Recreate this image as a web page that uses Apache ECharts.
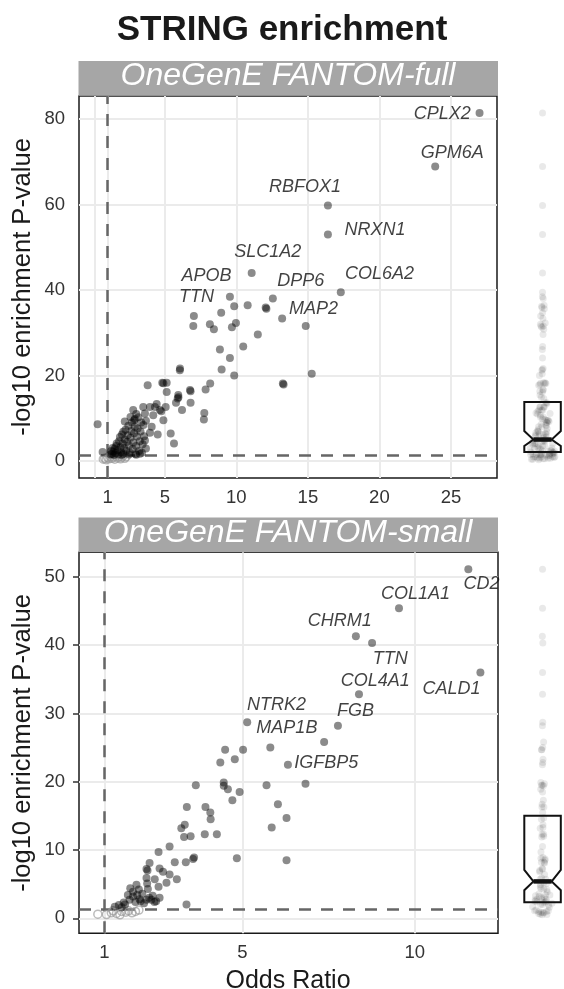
<!DOCTYPE html>
<html>
<head>
<meta charset="utf-8">
<title>STRING enrichment</title>
<script src="https://cdn.jsdelivr.net/npm/echarts@6/dist/echarts.min.js"></script>
<style>html,body{margin:0;padding:0;background:#fff;}</style>
</head>
<body>
<div id="main" style="width:564px;height:989px;"></div>
<script type="text/javascript">

/* data: odds ratio / -log10 p ============================================ */
// OneGenE FANTOM-full, significant (filled)
var fullOR = [27.0, 23.9, 16.4, 16.4, 17.3, 11.07, 12.55, 12.05, 12.1, 13.2, 14.85, 11.5, 9.55, 7.03, 6.99,
    9.85, 10.79, 8.94, 8.15, 8.43, 9.69, 9.97, 10.48, 8.85, 9.55, 8.97, 9.85, 6.06, 6.05, 8.17,
    7.85, 13.3, 13.25, 15.27, 3.80, 4.82, 4.9, 5.13, 5.13, 5.94, 5.9, 5.95, 5.78, 6.76, 6.8,
    6.80, 6.2, 7.76, 7.73, 5.06, 4.43, 4.66, 4.75, 4.9, 4.19, 3.61, 3.49, 2.79, 3.68, 4.08,
    3.96, 4.50, 5.41, 5.64, 3.61, 3.68, 3.26, 0.30, 0.65, 4.31, 3.96, 2.86, 2.9,
    1.3, 1.4, 1.5, 1.55, 1.6, 1.63, 1.7, 1.75, 1.8, 1.86, 1.9, 1.95, 2.0, 2.05, 2.09, 2.1,
    2.15, 2.2, 2.25, 2.3, 2.35, 2.4, 2.45, 2.5, 2.55, 2.6, 2.65, 2.7, 2.75, 2.8, 2.85, 2.9,
    2.95, 3.0, 3.05, 3.1, 3.15, 3.2, 3.25, 3.3, 3.35, 3.4, 3.45, 3.5, 3.55, 2.2, 2.6, 3.0,
    1.45, 2.0, 2.5, 3.0, 1.2, 1.35, 1.25];
var fullP = [81.4, 68.9, 59.8, 53.0, 39.5, 44.0, 38.0, 35.9, 35.6, 33.3, 31.6, 29.6, 38.4, 33.9, 31.6,
    36.2, 36.4, 34.7, 32.0, 30.8, 31.3, 32.3, 26.8, 26.1, 24.1, 21.4, 20.0, 21.6, 21.2, 18.1,
    16.7, 17.9, 18.1, 20.4, 17.7, 18.3, 18.2, 18.3, 16.1, 15.4, 14.6, 14.9, 13.6, 16.6, 16.3,
    13.6, 11.9, 11.2, 9.7, 12.6, 13.3, 11.9, 11.6, 9.5, 10.7, 11.1, 12.6, 11.9, 9.4, 8.0,
    6.6, 6.2, 6.4, 4.1, 4.8, 2.9, 1.7, 8.6, 2.1, 12.6, 12.6, 9.5, 9.8,
    1.6, 2.2, 2.9, 1.8, 3.5, 4.1, 2.5, 1.5, 4.6, 5.6, 3.2, 2.0, 6.2, 4.0, 6.8, 1.6,
    3.0, 5.0, 7.3, 2.4, 4.5, 6.0, 8.2, 3.6, 1.9, 5.4, 7.0, 9.0, 2.8, 4.3, 6.5, 8.0,
    1.6, 3.5, 5.7, 7.6, 10.2, 2.3, 4.6, 6.9, 9.0, 1.9, 3.9, 8.4, 5.8, 9.2, 10.3, 11.0,
    1.4, 1.4, 1.5, 1.45, 1.5, 3.0, 2.3];
// OneGenE FANTOM-full, not significant (hollow)
var fullNsOR = [0.7, 0.8, 0.9, 1.0, 1.1, 1.2, 1.3, 1.4, 1.5, 1.6, 1.7, 1.8, 1.9, 2.0, 2.1, 2.2, 2.3];
var fullNsP = [0.4, 0.6, 0.3, 0.8, 0.5, 1.0, 0.6, 0.9, 0.4, 1.1, 0.7, 1.0, 0.5, 0.9, 1.2, 0.6, 1.0];
// labelled genes (label anchor positions)
var fullGenes = ['CPLX2', 'GPM6A', 'RBFOX1', 'NRXN1', 'COL6A2', 'DPP6', 'MAP2', 'SLC1A2', 'APOB', 'TTN'];
var fullGeneX = [24.4, 25.1, 14.8, 19.7, 20.0, 14.5, 15.4, 12.2, 7.92, 7.22];
var fullGeneY = [81.3, 72.1, 64.0, 54.1, 43.7, 42.1, 35.6, 48.9, 43.2, 38.4];
// notched box: q1, lower notch, median, upper notch, q3
var fullBox = [2.1, 3.5, 5.0, 7.0, 13.8];

// OneGenE FANTOM-small, significant (filled)
var smallOR = [11.55, 9.54, 8.29, 8.76, 11.9, 8.38, 5.14, 7.77, 7.37, 5.81, 5.02, 4.78, 6.32, 4.50, 4.36,
    5.70, 6.83, 4.92, 4.58, 4.71, 6.03, 6.28, 5.85, 4.84, 6.28, 3.65, 4.46, 4.46, 3.39, 3.93,
    4.07, 4.08, 3.91, 4.26, 3.23, 3.33, 3.31, 3.50, 2.89, 2.57, 3.04, 3.36, 3.57, 3.6, 3.10,
    2.89, 2.60, 2.70, 2.80, 2.57, 2.46, 2.22, 2.25, 2.31, 2.22, 2.24, 2.26, 1.93, 1.83, 2.22,
    2.36, 2.02, 1.83, 1.68, 1.56, 1.73, 1.42, 3.38, 1.30,
    1.9, 2.1, 2.0, 1.6, 2.4, 2.5, 1.75, 2.15, 2.3, 2.45, 1.5, 2.6, 2.05, 1.95];
var smallP = [51.1, 45.4, 41.3, 40.3, 36.0, 32.8, 28.7, 28.2, 25.8, 25.0, 24.7, 23.3, 22.5, 24.7, 22.8,
    19.5, 19.7, 18.5, 18.9, 17.3, 16.7, 14.7, 13.3, 8.8, 8.5, 19.5, 19.9, 19.4, 16.3, 16.3,
    15.5, 14.5, 12.3, 12.3, 13.2, 13.7, 11.9, 12.0, 10.5, 9.7, 8.2, 8.2, 8.7, 8.9, 5.7,
    6.4, 7.3, 6.8, 5.2, 4.6, 5.7, 7.2, 7.0, 8.1, 5.9, 5.1, 4.3, 4.9, 3.9, 2.7,
    2.7, 2.8, 3.2, 3.4, 2.3, 2.7, 1.95, 2.0, 1.7,
    2.4, 3.6, 4.2, 2.0, 3.3, 2.5, 4.4, 2.2, 3.0, 2.4, 1.6, 3.0, 2.5, 3.4];
var smallNsOR = [0.81, 1.06, 1.2, 1.35, 1.5, 1.62, 1.7, 1.8, 1.9, 1.25, 1.45, 2.0];
var smallNsP = [0.6, 0.55, 0.8, 0.7, 1.0, 0.9, 1.1, 0.8, 1.0, 1.1, 0.5, 1.2];
var smallGenes = ['CD2', 'COL1A1', 'CHRM1', 'TTN', 'COL4A1', 'CALD1', 'NTRK2', 'FGB', 'MAP1B', 'IGFBP5'];
var smallGeneX = [11.93, 10.02, 7.82, 9.29, 8.85, 11.06, 5.99, 8.28, 6.29, 7.43];
var smallGeneY = [49.0, 47.5, 43.5, 37.9, 34.8, 33.6, 31.3, 30.4, 27.8, 22.8];
var smallBox = [2.34, 4.1, 5.4, 7.1, 15.0];

// axis ticks
var fullXTicks = [1, 5, 10, 15, 20, 25];
var fullYTicks = [0, 20, 40, 60, 80];
var smallXTicks = [1, 5, 10];
var smallYTicks = [0, 10, 20, 30, 40, 50];

var sigLine = 1.3;   // -log10(0.05)
var orLine = 1;

/* helpers ============================================================== */
var FONT = "'Liberation Sans', Arial, Helvetica, sans-serif";

function zip(xs, ys) {
    return xs.map(function (x, i) { return [x, ys[i]]; });
}
function labelData(names, xs, ys) {
    return names.map(function (n, i) { return {name: n, value: [xs[i], ys[i]]}; });
}
// quasi-random horizontal spread, wider where the values are dense
function stripData(ys, h) {
    return ys.map(function (y, i) {
        var n = ys.filter(function (v) { return Math.abs(v - y) < h; }).length;
        var w = Math.min(0.34, 0.011 * (n - 1));
        var j = ((i * 0.6180339887) % 1) - 0.5;
        return [0.5 + 2 * j * w, y];
    });
}

function xAxisFor(gi, min, max, ticks) {
    return {
        type: 'value', gridIndex: gi, min: min, max: max,
        axisLine: {show: false},
        axisTick: {show: true, length: 6, customValues: ticks, lineStyle: {color: '#333', width: 1.5}},
        axisLabel: {customValues: ticks, margin: 10, color: '#333', fontSize: 18.5, fontFamily: FONT},
        splitLine: {show: false}
    };
}
function yAxisFor(gi, min, max, ticks) {
    return {
        type: 'value', gridIndex: gi, min: min, max: max,
        axisLine: {show: false},
        axisTick: {show: true, length: 6, customValues: ticks, lineStyle: {color: '#333', width: 1.5}},
        axisLabel: {customValues: ticks, margin: 14, color: '#333', fontSize: 18.5, fontFamily: FONT},
        splitLine: {show: false}
    };
}
function hiddenAxis(gi, min, max) {
    return {type: 'value', gridIndex: gi, min: min, max: max, show: false,
        splitLine: {show: false}};
}

function panelSeries(ax, sigX, sigY, nsX, nsY, xTicks, yTicks, extraX, genes, gx, gy) {
    var grid = xTicks.concat(extraX).map(function (v) { return {xAxis: v}; })
        .concat(yTicks.map(function (v) { return {yAxis: v}; }));
    return [
        {   // background grid lines
            type: 'scatter', xAxisIndex: ax, yAxisIndex: ax, data: [], silent: true,
            markLine: {
                silent: true, symbol: 'none', z: 1, animation: false,
                label: {show: false},
                lineStyle: {color: '#ebebeb', width: 2, type: 'solid'},
                data: grid
            }
        },
        {   // dashed reference lines
            type: 'scatter', xAxisIndex: ax, yAxisIndex: ax, data: [], silent: true,
            markLine: {
                silent: true, symbol: 'none', z: 2, animation: false,
                label: {show: false},
                lineStyle: {color: '#666', width: 2.5, type: [12, 10]},
                data: [{xAxis: orLine}, {yAxis: sigLine}]
            }
        },
        {
            type: 'scatter', xAxisIndex: ax, yAxisIndex: ax, z: 3,
            symbolSize: 8,
            itemStyle: {color: 'rgba(255,255,255,0)', borderColor: 'rgba(150,150,150,0.8)', borderWidth: 1.5},
            data: zip(nsX, nsY)
        },
        {
            type: 'scatter', xAxisIndex: ax, yAxisIndex: ax, z: 4,
            symbolSize: 8,
            itemStyle: {color: 'rgba(0,0,0,0.57)'},
            data: zip(sigX, sigY)
        },
        {   // gene names
            type: 'scatter', xAxisIndex: ax, yAxisIndex: ax, z: 5,
            symbolSize: 1, itemStyle: {color: 'rgba(0,0,0,0)'},
            label: {
                show: true, position: 'inside', formatter: '{b}',
                color: '#111', fontSize: 18, fontStyle: 'italic', fontFamily: FONT
            },
            data: labelData(genes, gx, gy)
        }
    ];
}

function boxSeries(ax, box) {
    return {
        type: 'custom', xAxisIndex: ax, yAxisIndex: ax, z: 5, silent: true,
        data: [[0.5, box[2]]],
        renderItem: function (params, api) {
            var q1 = box[0], nLo = box[1], med = box[2], nHi = box[3], q3 = box[4];
            var pts = [[0, q3], [1, q3], [1, nHi], [0.75, med], [1, nLo], [1, q1],
                [0, q1], [0, nLo], [0.25, med], [0, nHi]].map(function (p) { return api.coord(p); });
            var a = api.coord([0.25, med]), b = api.coord([0.75, med]);
            return {
                type: 'group',
                children: [
                    {type: 'polygon', shape: {points: pts},
                        style: {fill: 'none', stroke: '#111', lineWidth: 2}},
                    {type: 'line', shape: {x1: a[0], y1: a[1], x2: b[0], y2: b[1]},
                        style: {stroke: '#111', lineWidth: 4.5}}
                ]
            };
        }
    };
}

function stripSeries(ax, ys, h) {
    return {
        type: 'scatter', xAxisIndex: ax, yAxisIndex: ax, z: 3, silent: true,
        symbolSize: 7,
        itemStyle: {color: 'rgba(0,0,0,0.11)'},
        data: stripData(ys, h)
    };
}

/* chart ================================================================= */
var myChart = echarts.init(document.getElementById('main'));

var fullRange = [-1.0, 28.22, -4.0, 85.4];
var smallRange = [0.264, 12.41, -2.2, 53.6];

var series = []
    .concat(panelSeries(0, fullOR, fullP, fullNsOR, fullNsP, fullXTicks, fullYTicks, [0.1],
        fullGenes, fullGeneX, fullGeneY))
    .concat(panelSeries(1, smallOR, smallP, smallNsOR, smallNsP, smallXTicks, smallYTicks, [],
        smallGenes, smallGeneX, smallGeneY));
series.push(stripSeries(2, fullP.concat(fullNsP), 2.0));
series.push(boxSeries(2, fullBox));
series.push(stripSeries(3, smallP.concat(smallNsP), 1.3));
series.push(boxSeries(3, smallBox));

function strip(top, text) {
    return [
        {type: 'rect', shape: {x: 78.5, y: top, width: 419.5, height: 34.7}, style: {fill: '#a6a6a6'}, z: 10},
        {type: 'text', x: 288, y: top + 15.5, z: 11,
            style: {text: text, fill: '#fff', font: 'italic 32px ' + FONT, textAlign: 'center', textVerticalAlign: 'middle'}}
    ];
}

myChart.setOption({
    animation: false,
    backgroundColor: '#fff',
    grid: [
        {left: 79, top: 96, width: 418, height: 382, show: true, borderColor: '#1a1a1a', borderWidth: 1.5, backgroundColor: 'transparent'},
        {left: 79, top: 552.3, width: 419, height: 381, show: true, borderColor: '#1a1a1a', borderWidth: 1.5, backgroundColor: 'transparent'},
        {left: 524.3, top: 96, width: 36.5, height: 382},
        {left: 524.3, top: 552.3, width: 36.5, height: 381}
    ],
    xAxis: [
        xAxisFor(0, fullRange[0], fullRange[1], fullXTicks),
        xAxisFor(1, smallRange[0], smallRange[1], smallXTicks),
        hiddenAxis(2, 0, 1),
        hiddenAxis(3, 0, 1)
    ],
    yAxis: [
        yAxisFor(0, fullRange[2], fullRange[3], fullYTicks),
        yAxisFor(1, smallRange[2], smallRange[3], smallYTicks),
        hiddenAxis(2, fullRange[2], fullRange[3]),
        hiddenAxis(3, smallRange[2], smallRange[3])
    ],
    graphic: [
        {type: 'text', x: 282, y: 30, z: 11,
            style: {text: 'STRING enrichment', fill: '#1a1a1a', font: 'bold 35px ' + FONT, textAlign: 'center', textVerticalAlign: 'middle'}},
        {type: 'text', x: 23, y: 287, rotation: Math.PI / 2, z: 11,
            style: {text: '-log10 enrichment P-value', fill: '#1a1a1a', font: '25.5px ' + FONT, textAlign: 'center', textVerticalAlign: 'middle'}},
        {type: 'text', x: 23, y: 743, rotation: Math.PI / 2, z: 11,
            style: {text: '-log10 enrichment P-value', fill: '#1a1a1a', font: '25.5px ' + FONT, textAlign: 'center', textVerticalAlign: 'middle'}},
        {type: 'text', x: 288, y: 981, z: 11,
            style: {text: 'Odds Ratio', fill: '#1a1a1a', font: '25px ' + FONT, textAlign: 'center', textVerticalAlign: 'middle'}}
    ].concat(strip(61, 'OneGenE FANTOM-full')).concat(strip(517.6, 'OneGenE FANTOM-small')),
    series: series
});

</script>
</body>
</html>
